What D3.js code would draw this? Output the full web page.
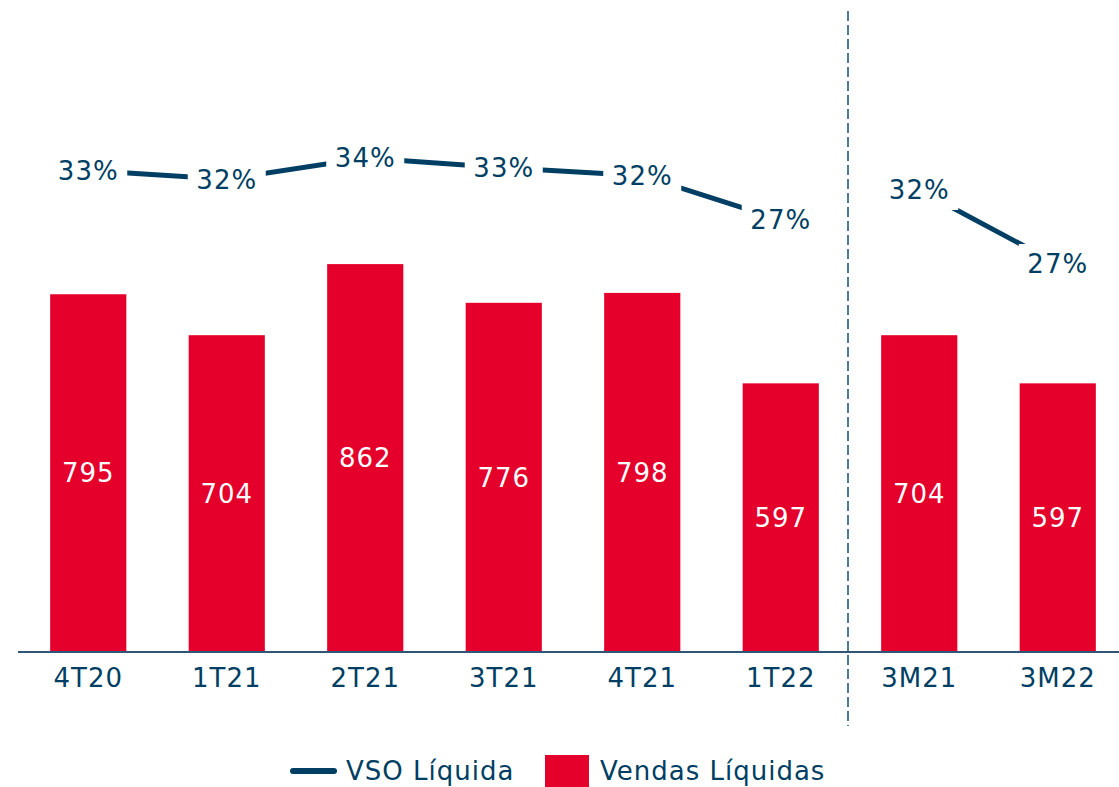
<!DOCTYPE html>
<html>
<head>
<meta charset="utf-8">
<script src="https://cdn.jsdelivr.net/npm/d3@7"></script>
<style>
  body { margin: 0; background: #fff; }
  text { font-family: "DejaVu Sans", sans-serif; letter-spacing: 1px; }
</style>
</head>
<body>
<div id="chart"></div>
<script>
// chart data
const categories = ["4T20", "1T21", "2T21", "3T21", "4T21", "1T22", "3M21", "3M22"];
const vendas = [795, 704, 862, 776, 798, 597, 704, 597];
const vso = [32.6, 31.6, 34.0, 32.9, 32.0, 27.0, 31.6, 27.0];
const quarterCats = ["4T20", "1T21", "2T21", "3T21", "4T21", "1T22"];
const ytdCats = ["3M21", "3M22"];

const svgWidth = 1119;
const svgHeight = 787;
const baseY = 652;

const red = "#e4002b";
const navy = "#003f63";

const svg = d3.select("#chart")
    .append("svg")
    .attr("width", svgWidth)
    .attr("height", svgHeight);

// x scale: 8 slots, step ~138.5
const x = d3.scaleBand()
    .domain(categories)
    .range([19, 1127])
    .paddingInner(0.45)
    .paddingOuter(0.225);

const yBar = d3.scaleLinear()
    .domain([0, 1000])
    .range([baseY, baseY - 450]);

// the line has its own scale for each block
const yLineQ = d3.scaleLinear().domain([27, 34]).range([220, 158]);
const yLineM = d3.scaleLinear().domain([27, 31.6]).range([264, 190]);

const rows = categories.map((c, i) => ({ cat: c, v: vendas[i], p: vso[i] }));
const cx = d => x(d.cat) + x.bandwidth() / 2;

// bars
svg.selectAll("rect.bar")
    .data(rows)
    .enter()
    .append("rect")
    .attr("class", "bar")
    .attr("x", d => x(d.cat))
    .attr("y", d => yBar(d.v))
    .attr("width", x.bandwidth())
    .attr("height", d => baseY - yBar(d.v))
    .attr("fill", red);

// value labels in bars
svg.selectAll("text.val")
    .data(rows)
    .enter()
    .append("text")
    .attr("class", "val")
    .attr("x", cx)
    .attr("y", d => (yBar(d.v) + baseY) / 2)
    .attr("dy", "0.36em")
    .attr("text-anchor", "middle")
    .attr("fill", "#fff")
    .style("font-size", "26px")
    .text(d => d.v);

// x axis
const xAxis = svg.append("g")
    .attr("transform", `translate(0, ${baseY})`)
    .call(d3.axisBottom(x).tickSize(0).tickPadding(17));
xAxis.select(".domain").remove();
xAxis.selectAll("text")
    .attr("fill", navy)
    .style("font-size", "26px")
    .style("font-family", "\"DejaVu Sans\", sans-serif");
svg.append("line")
    .attr("x1", 18).attr("x2", svgWidth)
    .attr("y1", baseY).attr("y2", baseY)
    .attr("stroke", "#2f5676")
    .attr("stroke-width", 2);

// separator
svg.append("line")
    .attr("x1", 848).attr("x2", 848)
    .attr("y1", 11).attr("y2", 726)
    .attr("stroke", "#4f7a96")
    .attr("stroke-width", 2)
    .attr("stroke-dasharray", "10,4");

// VSO lines
const qRows = rows.filter(d => quarterCats.includes(d.cat));
const mRows = rows.filter(d => ytdCats.includes(d.cat));
const lineQ = d3.line().x(cx).y(d => yLineQ(d.p));
const lineM = d3.line().x(cx).y(d => yLineM(d.p));

svg.append("path").datum(qRows)
    .attr("d", lineQ)
    .attr("fill", "none")
    .attr("stroke", navy)
    .attr("stroke-width", 5);
svg.append("path").datum(mRows)
    .attr("d", lineM)
    .attr("fill", "none")
    .attr("stroke", navy)
    .attr("stroke-width", 5);

// percent labels with white knock-out behind them
const pctRows = qRows.map(d => ({ ...d, py: yLineQ(d.p) }))
    .concat(mRows.map(d => ({ ...d, py: yLineM(d.p) })));

const pctG = svg.selectAll("g.pct")
    .data(pctRows)
    .enter()
    .append("g")
    .attr("class", "pct")
    .attr("transform", d => `translate(${cx(d)}, ${d.py})`);

pctG.append("rect")
    .attr("x", -39).attr("y", -20)
    .attr("width", 78).attr("height", 40)
    .attr("fill", "#fff");

pctG.append("text")
    .attr("text-anchor", "middle")
    .attr("dy", "0.36em")
    .attr("fill", navy)
    .style("font-size", "26px")
    .text(d => Math.round(d.p) + "%");

// legend
const legend = svg.append("g");
legend.append("line")
    .attr("x1", 293).attr("x2", 334)
    .attr("y1", 771).attr("y2", 771)
    .attr("stroke", navy)
    .attr("stroke-width", 6)
    .attr("stroke-linecap", "round");
legend.append("text")
    .attr("x", 346).attr("y", 771)
    .attr("dy", "0.36em")
    .attr("fill", navy)
    .style("font-size", "26px")
    .text("VSO Líquida");
legend.append("rect")
    .attr("x", 545).attr("y", 755)
    .attr("width", 44).attr("height", 40)
    .attr("fill", red);
legend.append("text")
    .attr("x", 600).attr("y", 771)
    .attr("dy", "0.36em")
    .attr("fill", navy)
    .style("font-size", "26px")
    .text("Vendas Líquidas");
</script>
</body>
</html>
